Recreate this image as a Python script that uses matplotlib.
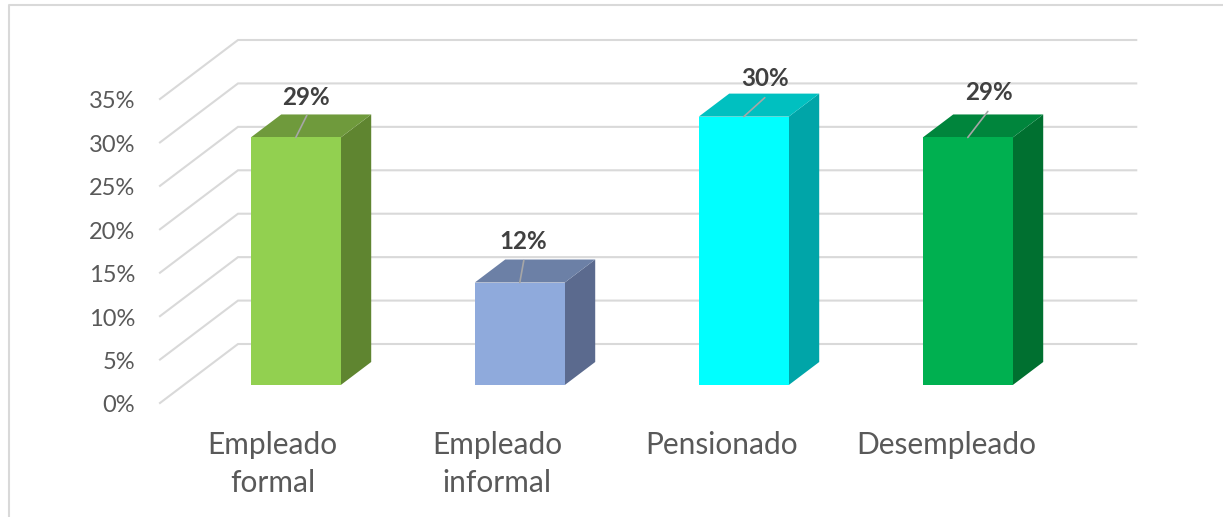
"""Oblique 3D-look column chart, drawn on a normal 2D axes."""
import matplotlib
matplotlib.use("Agg")
import matplotlib.pyplot as plt
from matplotlib.lines import Line2D
from matplotlib.patches import Polygon

categories = ["Empleado\nformal", "Empleado\ninformal", "Pensionado", "Desempleado"]
bar_heights = [28.5, 11.8, 30.9, 28.5]
data_labels = ["29%", "12%", "30%", "29%"]
y_ticks = [0, 5, 10, 15, 20, 25, 30, 35]

front_colors = ["#92D050", "#8FAADC", "#00FFFF", "#00B050"]
top_colors = ["#6F9A3C", "#6C80A6", "#00C0C0", "#00853C"]
side_colors = ["#5F8530", "#5B6A8E", "#00A5A8", "#007030"]

GRID = "#D9D9D9"
W, H = 1223, 517
FONT = "Lato"

# depth of the floor in data units
DEPTH_X = 78 / 224
DEPTH_Y = 59 / 43.43 * 5
BAR_W = 90 / 224
BAR_D0 = 0.305
BAR_D1 = 0.695

# offsets in pixels from the top of each bar: leader end, label centre
leader_px = [(11, 22), (4, 22), (21, 19), (20, 26)]
label_px = [(10, 40), (3, 41), (21, 38), (21, 45)]


def project(x, y, d):
    return x + d * DEPTH_X, y + d * DEPTH_Y


fig = plt.figure(figsize=(W / 100, H / 100), dpi=100, facecolor="white")
ax = fig.add_axes([160 / W, 1 - 403 / H, 896 / W, 304 / H])
ax.set_xlim(0, 4)
ax.set_ylim(0, 35)
ax.axis("off")

# walls
for v in y_ticks:
    x0, y0 = project(0, v, 0)
    x1, y1 = project(0, v, 1)
    x2, y2 = project(4.01, v, 1)
    ax.plot([x0, x1, x2], [y0, y1, y2], color=GRID, lw=1.5, clip_on=False,
            solid_joinstyle="miter", zorder=1)
    ax.annotate(f"{v}%", (0, v), xytext=(-25, -3), textcoords="offset pixels",
                ha="right", va="center", fontsize=17, color="#595959",
                family=FONT, annotation_clip=False)

# columns
for i, h in enumerate(bar_heights):
    c = i + 0.5
    left = c + BAR_D0 * DEPTH_X - BAR_W / 2
    right = left + BAR_W
    base = BAR_D0 * DEPTH_Y
    top = h + base
    dx = (BAR_D1 - BAR_D0) * DEPTH_X
    dy = (BAR_D1 - BAR_D0) * DEPTH_Y
    front = [(left, base), (right, base), (right, top), (left, top)]
    side = [(right, base), (right + dx, base + dy), (right + dx, top + dy), (right, top)]
    cap = [(left, top), (right, top), (right + dx, top + dy), (left + dx, top + dy)]
    ax.add_patch(Polygon(side, fc=side_colors[i], ec="none", zorder=2, clip_on=False))
    ax.add_patch(Polygon(cap, fc=top_colors[i], ec="none", zorder=2, clip_on=False))
    ax.add_patch(Polygon(front, fc=front_colors[i], ec="none", zorder=3, clip_on=False))

    anchor = ((left + right) / 2, top)
    ax.annotate("", anchor, xytext=leader_px[i], textcoords="offset pixels",
                arrowprops=dict(arrowstyle="-", color="#A6A6A6", lw=1.2,
                                shrinkA=0, shrinkB=0),
                annotation_clip=False, zorder=4)
    ax.annotate(data_labels[i], anchor, xytext=label_px[i], textcoords="offset pixels",
                ha="center", va="center", fontsize=17.4, fontweight="bold",
                color="#404040", family=FONT, annotation_clip=False, zorder=5)

    # labels hang from the same top line, whether one or two lines long
    ax.annotate(categories[i], (c * 1.003, 0), xytext=(0, -28), textcoords="offset pixels",
                ha="center", va="top", fontsize=21.5, color="#595959",
                family=FONT, linespacing=1.42, annotation_clip=False)

# chart frame, only top and left show in the crop
fig.add_artist(Line2D([9 / W, 9 / W, 1], [0, 1 - 5 / H, 1 - 5 / H],
                      color=GRID, lw=1.5, transform=fig.transFigure))

fig.savefig("out.png", dpi=100)
